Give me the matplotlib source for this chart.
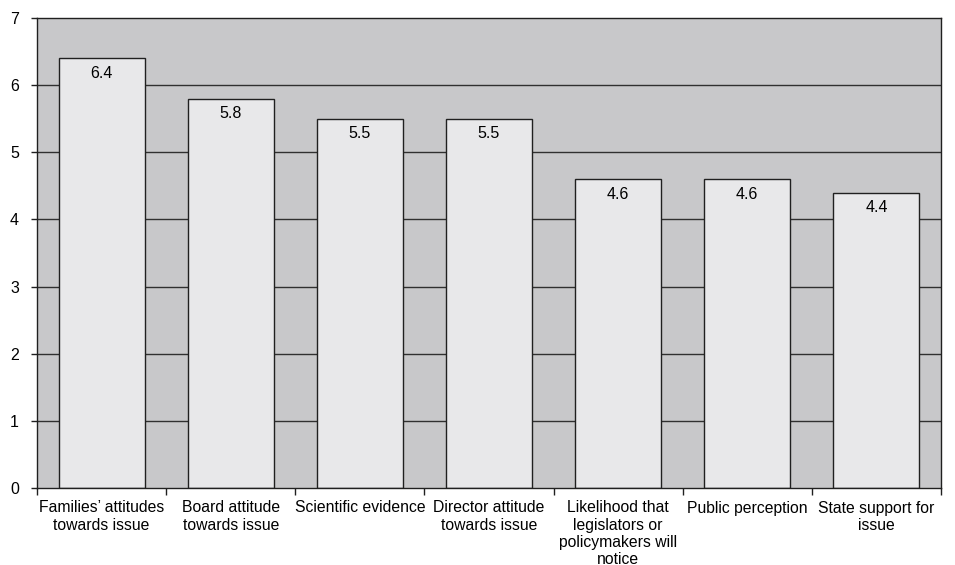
import numpy as np
import matplotlib.pyplot as plt

plt.rcParams['font.family'] = ['Liberation Sans', 'DejaVu Sans']

categories = [
    "Families\u2019 attitudes\ntowards issue",
    "Board attitude\ntowards issue",
    "Scientific evidence",
    "Director attitude\ntowards issue",
    "Likelihood that\nlegislators or\npolicymakers will\nnotice",
    "Public perception",
    "State support for\nissue",
]
scores = [6.4, 5.8, 5.5, 5.5, 4.6, 4.6, 4.4]
y_ticks = [0, 1, 2, 3, 4, 5, 6, 7]

fig = plt.figure(figsize=(9.55, 5.65), dpi=100)
ax = fig.add_axes([37 / 955, 1 - 488 / 565, (941 - 37) / 955, (488 - 18) / 565])
ax.set_facecolor('#c8c8ca')

x = np.arange(len(categories))
ax.set_xlim(-0.5, len(categories) - 0.5)
ax.set_ylim(0, 7)

# horizontal grid drawn behind the bars
for yv in y_ticks[1:-1]:
    ax.axhline(yv, color='#303030', lw=1.0, zorder=1)

ax.bar(x, scores, width=0.667, color='#e8e8ea', edgecolor='#202020',
       linewidth=1.0, zorder=2)
for xi, v in zip(x, scores):
    ax.text(xi, v - 0.11, f"{v:.1f}", ha='center', va='top', fontsize=11.5, zorder=3)

for s in ax.spines.values():
    s.set_color('#202020')
    s.set_linewidth(1.0)

ax.set_yticks(y_ticks)
ax.set_yticklabels([str(t) for t in y_ticks], fontsize=11.5)
ax.tick_params(axis='y', length=4, width=1.0, pad=9, color='#202020')

# labels sit under the bars, tick marks on the category boundaries
ax.set_xticks(x)
ax.set_xticklabels(categories, fontsize=11.3, linespacing=1.17)
ax.tick_params(axis='x', which='major', length=0, pad=9)
ax.set_xticks(np.arange(len(categories) + 1) - 0.5, minor=True)
ax.tick_params(axis='x', which='minor', length=5, width=1.0, color='#202020')

fig.savefig('out.png', dpi=100, facecolor='white')
